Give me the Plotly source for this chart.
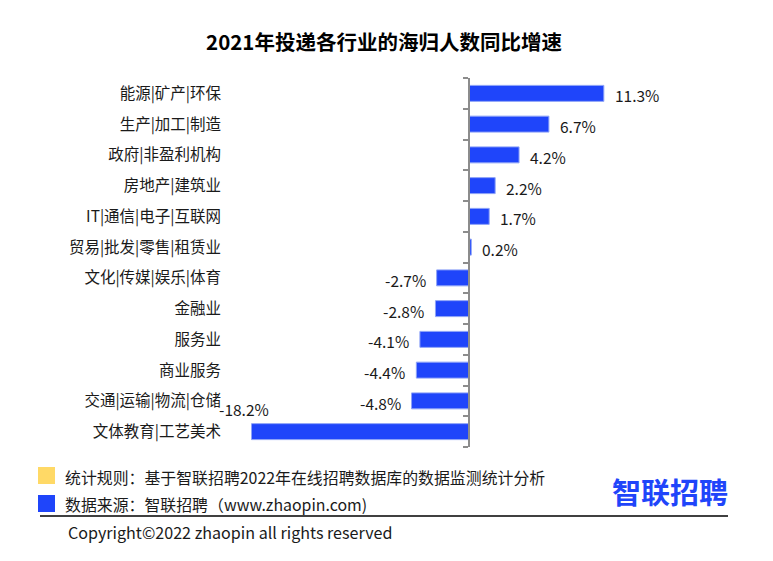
import plotly.graph_objects as go

categories = ["能源|矿产|环保", "生产|加工|制造", "政府|非盈利机构", "房地产|建筑业",
              "IT|通信|电子|互联网", "贸易|批发|零售|租赁业", "文化|传媒|娱乐|体育",
              "金融业", "服务业", "商业服务", "交通|运输|物流|仓储", "文体教育|工艺美术"]
values = [11.3, 6.7, 4.2, 2.2, 1.7, 0.2, -2.7, -2.8, -4.1, -4.4, -4.8, -18.2]
title = "2021年投递各行业的海归人数同比增速"
note1 = "统计规则：基于智联招聘2022年在线招聘数据库的数据监测统计分析"
note2 = "数据来源：智联招聘（www.zhaopin.com)"
copyright_text = "Copyright©2022 zhaopin all rights reserved"
logo_text = "智联招聘"

W, H = 773, 561
OFF = 8  # page body margin in the browser
L, T = 236 - OFF, 78 - OFF
PW, PH = 418, 369
R, B = W - L - PW, H - T - PH
XR = [-19.5, 15.5]
FONT = "Noto Sans CJK SC, Microsoft YaHei, sans-serif"
BLUE = "#1f45fa"
TXT = "#1a1a1a"

def px(x):
    return (x - OFF - L) / PW

def py(y):
    return (T + PH - (y - OFF)) / PH

n = len(categories)
YR = [n - 0.5, -0.5]
fig = go.Figure()
fig.add_trace(go.Bar(
    x=values, y=categories, orientation="h",
    marker=dict(color=BLUE, line=dict(color="#8ea3f7", width=1)),
    width=0.52, hoverinfo="x+y",
))
# invisible helper trace so that the zero-axis (yaxis2) gets drawn
fig.add_trace(go.Scatter(x=values, y=list(range(n)), yaxis="y2", mode="markers",
                         marker=dict(opacity=0), hoverinfo="skip"))

annotations = []
for c, v in zip(categories, values):
    if v < -10:
        annotations.append(dict(x=v, y=c, xref="x", yref="y", text=f"{v:.1f}%",
                                showarrow=False, xanchor="center", yanchor="middle",
                                xshift=-8, yshift=23, font=dict(size=15.5, color=TXT, family=FONT)))
    else:
        annotations.append(dict(x=v, y=c, xref="x", yref="y", text=f"{v:.1f}%",
                                showarrow=False, xanchor="left" if v >= 0 else "right",
                                yanchor="middle", xshift=9 if v >= 0 else -9, yshift=-2,
                                font=dict(size=15.5, color=TXT, family=FONT)))

annotations += [
    dict(x=px(63), y=py(477), xref="paper", yref="paper", text=note1, showarrow=False,
         xanchor="left", yanchor="middle", font=dict(size=15.9, color=TXT, family=FONT)),
    dict(x=px(63), y=py(504), xref="paper", yref="paper", text=note2, showarrow=False,
         xanchor="left", yanchor="middle", font=dict(size=15.9, color=TXT, family=FONT)),
    dict(x=px(66), y=py(532), xref="paper", yref="paper", text=copyright_text, showarrow=False,
         xanchor="left", yanchor="middle", font=dict(size=16.1, color=TXT, family=FONT)),
    dict(x=px(670), y=py(491), xref="paper", yref="paper", text="<b>" + logo_text + "</b>",
         showarrow=False, xanchor="center", yanchor="middle",
         font=dict(size=29, color="#1f45fa", family=FONT)),
]

shapes = [
    dict(type="rect", xref="paper", yref="paper", x0=px(38), x1=px(55), y0=py(484), y1=py(467),
         fillcolor="#ffd966", line=dict(width=0)),
    dict(type="rect", xref="paper", yref="paper", x0=px(38), x1=px(55), y0=py(512), y1=py(495),
         fillcolor=BLUE, line=dict(width=0)),
    dict(type="line", xref="paper", yref="paper", x0=px(40), x1=px(728), y0=py(516), y1=py(516),
         line=dict(color="#000000", width=1.5)),
]

zero_pos = (0 - XR[0]) / (XR[1] - XR[0])

fig.update_layout(
    width=W, height=H,
    margin=dict(l=L, r=R, t=T, b=B),
    paper_bgcolor="white", plot_bgcolor="white",
    showlegend=False,
    title=dict(text="<b>" + title + "</b>", x=(384 - OFF) / W, xanchor="center", xref="container",
               y=1 - (43 - OFF) / H, yanchor="middle", yref="container",
               font=dict(size=20.5, color="#000000", family=FONT)),
    font=dict(family=FONT, color=TXT),
    xaxis=dict(range=XR, showgrid=False, zeroline=False, showticklabels=False,
               showline=False, ticks="", fixedrange=True),
    yaxis=dict(range=YR, showgrid=False, zeroline=False, showline=False,
               ticks="", ticklabelstandoff=14, tickfont=dict(size=15.5, color=TXT, family=FONT)),
    yaxis2=dict(overlaying="y", anchor="free", position=zero_pos, side="left",
                range=YR, showgrid=False, zeroline=False, showticklabels=False,
                tickmode="array", tickvals=[i - 0.5 for i in range(n + 1)],
                ticks="outside", ticklen=5, tickcolor="#8c8c8c", tickwidth=1.5,
                showline=True, linecolor="#8c8c8c", linewidth=1.5),
    annotations=annotations,
    shapes=shapes,
    bargap=0.48,
)

fig.write_html("out.html")
